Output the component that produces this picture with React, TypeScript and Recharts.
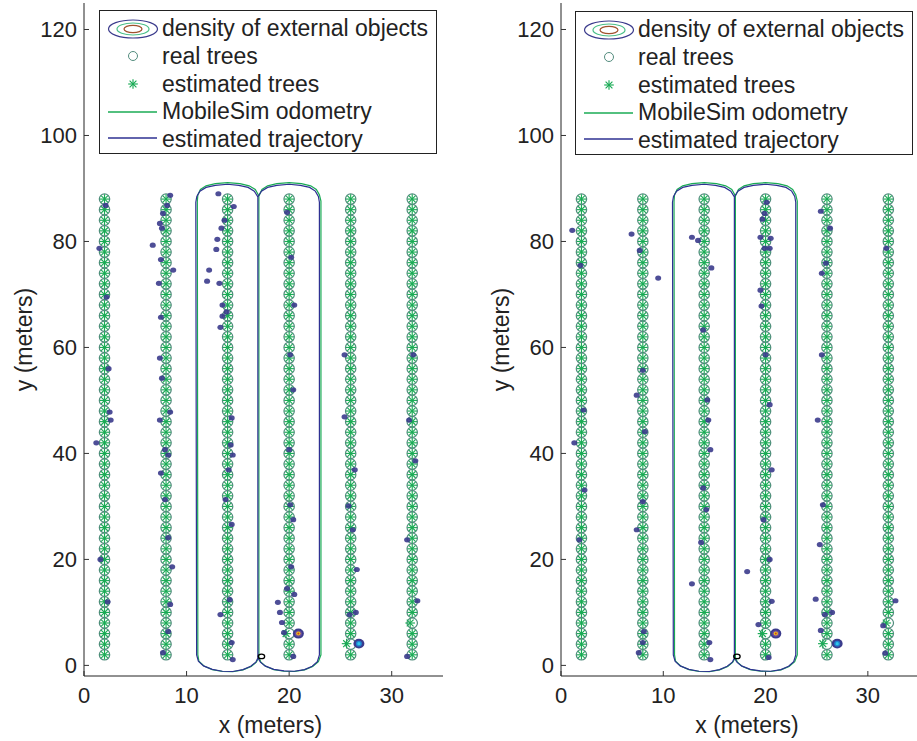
import React from 'react';
import { ScatterChart, Scatter, XAxis, YAxis } from 'recharts';

const FONT = '"Liberation Sans", Arial, Helvetica, sans-serif';

const X_TICKS = [0, 10, 20, 30];
const Y_TICKS = [0, 20, 40, 60, 80, 100, 120];

// orchard layout: six rows of trees, one every 2 m
const TREE_COLUMNS = [2, 8, 14, 20, 26, 32];
const TREE_ROWS = [
  2, 4, 6, 8, 10, 12, 14, 16, 18, 20, 22, 24, 26, 28, 30, 32, 34, 36, 38, 40, 42, 44,
  46, 48, 50, 52, 54, 56, 58, 60, 62, 64, 66, 68, 70, 72, 74, 76, 78, 80, 82, 84, 86, 88,
];
// estimated trees that sit visibly off their real tree: [realX, realY, estX, estY]
const EST_TREE_SHIFTS = [
  [26, 4, 25.6, 4.1],
  [32, 8, 31.8, 8],
  [20, 6, 19.7, 6],
];

// MobileSim odometry (green)
const ODOMETRY = [
  [17.05, 1.5], [17.05, 88.6], [16.7, 89.8], [16.1, 90.5], [15.2, 90.9], [14, 91.1],
  [12.8, 90.9], [11.9, 90.5], [11.35, 89.8], [11.1, 88.8], [11.05, 87.6], [11.1, 2.0],
  [11.2, 0.8], [11.7, -0.1], [12.5, -0.8], [13.5, -1.15], [14.5, -1.2], [15.5, -0.85],
  [16.3, -0.2], [16.8, 0.6], [17.05, 1.5], [17.25, 0.6], [17.7, -0.15], [18.5, -0.8],
  [19.5, -1.1], [20.5, -1.15], [21.5, -0.85], [22.3, -0.2], [22.85, 0.7], [23.1, 2.0],
  [23.1, 87.6], [22.95, 88.8], [22.65, 89.8], [22.1, 90.5], [21.2, 90.9], [20, 91.1],
  [18.8, 90.9], [17.9, 90.5], [17.35, 89.8], [17.05, 88.6], [17.05, 1.5],
];

// estimated trajectory (blue)
const EST_PATH = [
  [16.95, 1.4], [16.95, 88.4], [16.6, 89.5], [16.0, 90.2], [15.1, 90.6], [14, 90.8],
  [12.8, 90.6], [11.9, 90.2], [11.3, 89.5], [11.0, 88.5], [10.9, 87.4], [10.98, 2.0],
  [11.15, 0.8], [11.65, -0.1], [12.5, -0.75], [13.5, -1.1], [14.5, -1.15], [15.5, -0.8],
  [16.25, -0.15], [16.75, 0.6], [16.95, 1.4], [17.2, 0.6], [17.65, -0.1], [18.5, -0.75],
  [19.5, -1.05], [20.5, -1.1], [21.5, -0.8], [22.25, -0.15], [22.75, 0.7], [22.95, 2.0],
  [22.95, 87.4], [22.85, 88.5], [22.55, 89.5], [22.0, 90.2], [21.1, 90.6], [20, 90.8],
  [18.8, 90.6], [17.9, 90.2], [17.3, 89.5], [16.95, 88.4], [16.95, 1.4],
];

const START_LEFT = [[17.3, 1.7]];
const START_RIGHT = [[17.2, 1.7]];

// density of external objects, small blobs
const DENSITY_LEFT = [
  [2.1, 86.8], [1.5, 78.7], [2.2, 69.5], [2.4, 56], [2.5, 47.8], [2.6, 46.3], [1.2, 42],
  [1.6, 20], [2.3, 12],
  [8.4, 88.7], [8.1, 86.8], [7.7, 85.3], [7.4, 83.4], [7.6, 82.5], [6.7, 79.3], [7.5, 76.6],
  [8.7, 74.6], [7.3, 72.1], [7.5, 65.7], [7.4, 58], [7.6, 54.2], [7.4, 46.3], [8.4, 47.8],
  [7.9, 40.7], [8.2, 39.7], [7.5, 36.3], [7.9, 31.3], [8.2, 24.1], [8.6, 18.6], [8.4, 11.5],
  [8.2, 6.4], [7.7, 2.4],
  [13.1, 89], [14.6, 86.6], [13.7, 84], [13.4, 82.5], [13.0, 80.4], [12.9, 78.5], [12.2, 74.6],
  [12.0, 72.5], [13.2, 72.1], [13.5, 68], [13.9, 66.7], [13.5, 65.9], [13.3, 63.8],
  [14.4, 46.7], [14.3, 41.6], [14.5, 39.7], [14.1, 36.9], [13.8, 31.3], [14.4, 26.6],
  [14.2, 12.4], [13.3, 9.6], [14.4, 4.3], [14.5, 1.1],
  [19.8, 85.5], [20.2, 77], [20.5, 68], [20.1, 58.6], [20.4, 52], [20.0, 40.7], [20.1, 30.3],
  [20.4, 27.5], [20.2, 18.6], [19.8, 14.5], [20.5, 13.4], [18.9, 11.9], [19.1, 10],
  [19.3, 8.1], [19.5, 6.2], [20.4, 1.7],
  [25.4, 58.6], [25.4, 46.9], [26.4, 36.9], [25.8, 30.1], [26.2, 25.6], [26.6, 18.1],
  [25.9, 9.6], [26.5, 10],
  [32.1, 58.6], [31.7, 46.3], [32.3, 38.6], [31.5, 23.7], [32.5, 12.2], [31.5, 1.7],
];
const DENSITY_RIGHT = [
  [1.1, 82.1], [1.9, 75.5], [2.2, 48.2], [1.3, 42], [2.3, 33.1], [1.8, 23.7],
  [6.9, 81.4], [7.7, 78.3], [9.5, 73.1], [8.0, 55.7], [7.4, 51], [8.2, 44.1], [8.0, 30.9],
  [7.4, 25.6], [8.1, 6.4], [8.0, 4.3], [7.6, 2.4],
  [12.8, 80.8], [13.4, 80.2], [14.7, 75], [13.9, 63.3], [14.3, 50.1], [14.4, 46.3],
  [14.6, 40.7], [13.9, 33.5], [14.2, 29.4], [13.7, 23.2], [12.8, 15.4], [14.5, 4.3], [14.6, 1.1],
  [20.1, 87.4], [19.9, 85.3], [19.7, 84.2], [19.5, 80.8], [20.5, 80.6], [19.9, 78.7],
  [20.4, 78.7], [19.5, 70.8], [19.6, 67.8], [20, 58.6], [20.4, 49.2], [20.6, 36.9],
  [19.8, 27.5], [20.4, 20], [18.2, 17.7], [19.3, 7.7], [20.6, 12.1], [20.3, 1.5],
  [25.4, 85.7], [26.3, 82.5], [25.9, 75.9], [25.5, 74], [25.5, 58.6], [25.1, 46.3],
  [25.6, 30.3], [25.3, 22.8], [24.9, 12.5], [25.8, 9.6], [26.5, 10], [25.4, 6.6],
  [31.8, 78.7], [32.7, 12.2], [31.5, 7.5], [31.7, 2.3],
];
// strongest density peaks
const WARM_PEAKS_LEFT = [[20.9, 6]];
const COOL_PEAKS_LEFT = [[26.8, 4.1]];
const WARM_PEAKS_RIGHT = [[21.0, 6]];
const COOL_PEAKS_RIGHT = [[27.0, 4.1]];

const toPoints = (pairs: number[][]) => pairs.map(([x, y]) => ({ x, y }));

const realTrees = TREE_COLUMNS.flatMap(x => TREE_ROWS.map(y => ({ x, y })));
const estimatedTrees = realTrees.map(t => {
  const s = EST_TREE_SHIFTS.find(d => d[0] === t.x && d[1] === t.y);
  return s ? { x: s[2], y: s[3] } : t;
});

const GREEN = '#1aab55';
const BLUE = '#2e3192';
const NAVY = '#3b3b8c';
const CIRCLE = '#538c7e';

const TreeCircle = (p: any) => (
  <circle cx={p.cx} cy={p.cy} r={5.2} fill="none" stroke={CIRCLE} strokeWidth={1.2} />
);

const Asterisk = (p: any) => {
  const { cx, cy } = p;
  const r = 4.8;
  const d = r * 0.707;
  return (
    <g stroke={GREEN} strokeWidth={1.15}>
      <line x1={cx - r} y1={cy} x2={cx + r} y2={cy} />
      <line x1={cx} y1={cy - r} x2={cx} y2={cy + r} />
      <line x1={cx - d} y1={cy - d} x2={cx + d} y2={cy + d} />
      <line x1={cx - d} y1={cy + d} x2={cx + d} y2={cy - d} />
    </g>
  );
};

const Blob = (p: any) => <ellipse cx={p.cx} cy={p.cy} rx={3} ry={2.6} fill={NAVY} opacity={0.9} />;

const WarmPeak = (p: any) => (
  <g>
    <ellipse cx={p.cx} cy={p.cy} rx={5.5} ry={5} fill={NAVY} />
    <ellipse cx={p.cx} cy={p.cy} rx={3.6} ry={3.2} fill="#6a4aa0" />
    <ellipse cx={p.cx} cy={p.cy} rx={2.2} ry={2} fill="#e8c020" />
    <ellipse cx={p.cx} cy={p.cy} rx={1} ry={1} fill="#d04020" />
  </g>
);

const CoolPeak = (p: any) => (
  <g>
    <ellipse cx={p.cx} cy={p.cy} rx={5.5} ry={4.8} fill={NAVY} />
    <ellipse cx={p.cx} cy={p.cy} rx={3} ry={2.8} fill="#2080d0" />
    <ellipse cx={p.cx} cy={p.cy} rx={1.6} ry={1.6} fill="#30c8e8" />
  </g>
);

const StartMark = (p: any) => (
  <ellipse cx={p.cx} cy={p.cy} rx={3.2} ry={2.2} fill="none" stroke="#000" strokeWidth={1.3} />
);

const NoShape = () => <g />;

function Legend({ left, top }: { left: number; top: number }) {
  const text = { fontSize: 23, fill: '#222', fontFamily: FONT };
  return (
    <svg
      width={338}
      height={144}
      style={{ position: 'absolute', left, top, background: '#fff' }}
    >
      <rect x={0.5} y={0.5} width={337} height={143} fill="#fff" stroke="#222" strokeWidth={1} />
      <ellipse cx={34} cy={19} rx={24.5} ry={9} fill="none" stroke={NAVY} strokeWidth={1.2} />
      <ellipse cx={34} cy={19} rx={16} ry={6} fill="none" stroke="#4cc08a" strokeWidth={1.2} />
      <ellipse cx={34} cy={19} rx={9} ry={3.7} fill="none" stroke="#a0522d" strokeWidth={1.2} />
      <circle cx={34} cy={46} r={4.5} fill="none" stroke={CIRCLE} strokeWidth={1} />
      <Asterisk cx={34} cy={74} />
      <line x1={9} y1={102} x2={58} y2={102} stroke={GREEN} strokeWidth={1.3} />
      <line x1={9} y1={128} x2={58} y2={128} stroke={BLUE} strokeWidth={1.3} />
      <text x={63} y={26} {...text}>density of external objects</text>
      <text x={63} y={54} {...text}>real trees</text>
      <text x={63} y={82} {...text}>estimated trees</text>
      <text x={63} y={109} {...text}>MobileSim odometry</text>
      <text x={63} y={137} {...text}>estimated trajectory</text>
    </svg>
  );
}

interface PanelProps {
  left: number;
  width: number;
  marginRight: number;
  density: number[][];
  warm: number[][];
  cool: number[][];
  start: number[][];
}

function Panel({ left, width, marginRight, density, warm, cool, start }: PanelProps) {
  const tick = { fontSize: 22, fill: '#222', fontFamily: FONT };
  return (
    <div style={{ position: 'absolute', left, top: 0 }}>
      <ScatterChart width={width} height={741} margin={{ top: 3, right: marginRight, bottom: 0, left: 0 }}>
        <XAxis
          type="number"
          dataKey="x"
          domain={[0, 35]}
          ticks={X_TICKS}
          interval={0}
          allowDataOverflow
          height={65}
          tickSize={-5}
          tickMargin={16}
          axisLine={{ stroke: '#222' }}
          tickLine={{ stroke: '#333' }}
          tick={tick}
          label={{ value: 'x (meters)', position: 'insideBottom', offset: 8, dx: 7, fontSize: 23, fill: '#222', fontFamily: FONT }}
        />
        <YAxis
          type="number"
          dataKey="y"
          domain={[-2, 125]}
          ticks={Y_TICKS}
          interval={0}
          allowDataOverflow
          width={84}
          tickSize={-5}
          tickMargin={12}
          axisLine={{ stroke: '#222' }}
          tickLine={{ stroke: '#333' }}
          tick={tick}
          label={{ value: 'y (meters)', angle: -90, position: 'center', dx: -18, fontSize: 23, fill: '#222', fontFamily: FONT }}
        />
        <Scatter data={realTrees} shape={TreeCircle} isAnimationActive={false} />
        <Scatter data={estimatedTrees} shape={Asterisk} isAnimationActive={false} />
        <Scatter data={toPoints(density)} shape={Blob} isAnimationActive={false} />
        <Scatter data={toPoints(warm)} shape={WarmPeak} isAnimationActive={false} />
        <Scatter data={toPoints(cool)} shape={CoolPeak} isAnimationActive={false} />
        <Scatter
          data={toPoints(ODOMETRY)}
          fill={GREEN}
          line={{ stroke: GREEN, strokeWidth: 1.2 }}
          lineType="joint"
          shape={NoShape}
          isAnimationActive={false}
        />
        <Scatter
          data={toPoints(EST_PATH)}
          fill={BLUE}
          line={{ stroke: BLUE, strokeWidth: 1.2 }}
          lineType="joint"
          shape={NoShape}
          isAnimationActive={false}
        />
        <Scatter data={toPoints(start)} shape={StartMark} isAnimationActive={false} />
      </ScatterChart>
    </div>
  );
}

export default function App() {
  return (
    <div
      style={{
        position: 'absolute',
        left: 0,
        top: 0,
        width: 917,
        height: 741,
        overflow: 'hidden',
        background: '#fff',
        fontFamily: FONT,
      }}
    >
      <Panel left={0} width={470} marginRight={27} density={DENSITY_LEFT} warm={WARM_PEAKS_LEFT} cool={COOL_PEAKS_LEFT} start={START_LEFT} />
      <Panel left={477} width={442} marginRight={0} density={DENSITY_RIGHT} warm={WARM_PEAKS_RIGHT} cool={COOL_PEAKS_RIGHT} start={START_RIGHT} />
      <Legend left={99} top={10} />
      <Legend left={575} top={11} />
    </div>
  );
}
